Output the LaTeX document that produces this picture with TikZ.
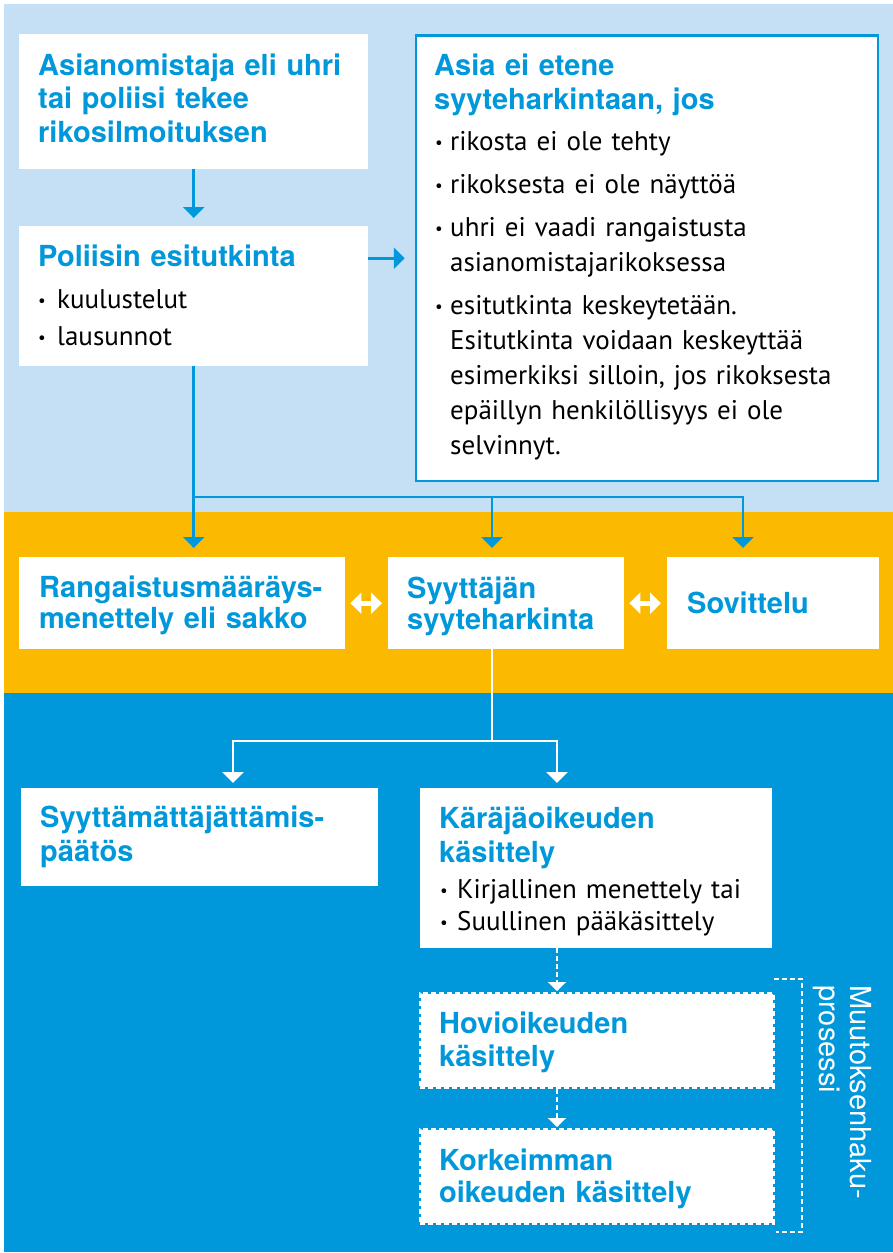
\documentclass[tikz,border=0pt]{standalone}
\usepackage{fontspec}
\usetikzlibrary{arrows.meta}
\newfontfamily\hfont{TeX Gyre Heros}
\newfontfamily\bfont{PT Sans}
\definecolor{lbg}{RGB}{197,224,244}
\definecolor{obg}{RGB}{251,186,0}
\definecolor{dbg}{RGB}{0,152,218}
\definecolor{hblue}{RGB}{0,152,218}
\newcommand\bdot{\raisebox{1.8pt}{\fontsize{17}{17}\selectfont •}}
\newcommand\bitem[2][15pt]{\makebox[#1][l]{\bdot}#2\par}
\newcommand\cont[1][15pt]{\newline\hspace*{#1}}
\tikzset{
  whitebox/.style={fill=white, draw=none, inner sep=0pt, anchor=north west},
  dbox/.style={draw=white, line width=2.5pt, dash pattern=on 5pt off 3pt, inner sep=0pt, anchor=north west},
  head/.style={anchor=base west, inner sep=0pt, text width=500pt, align=left, text=hblue,
    font=\hfont\bfseries\fontsize{29}{#1}\selectfont},
  head/.default=33.5,
  body/.style={anchor=base west, inner sep=0pt, text width=500pt, align=left, text=black,
    font=\bfont\fontsize{27}{#1}\selectfont},
  body/.default=35,
  bline/.style={draw=dbg, line width=2.5pt},
  barrow/.style={bline, -{Triangle[width=21pt,length=11pt]}},
  wline/.style={draw=white, line width=2.5pt},
  warrow/.style={wline, -{Triangle[width=21pt,length=11pt]}},
  darrow/.style={wline, dash pattern=on 5pt off 3pt, -{Triangle[width=18pt,length=9pt]}},
  dblarrow/.style={draw=white, line width=5pt, {Triangle[width=21pt,length=11pt]}-{Triangle[width=21pt,length=11pt]}},
}
\begin{document}
\begin{tikzpicture}[x=1pt,y=-1pt]
\useasboundingbox (0,0) rectangle (893,1253);
% bands
\fill[lbg] (4,4) rectangle (893,512);
\fill[obg] (4,512) rectangle (893,693);
\fill[dbg] (4,693) rectangle (893,1251.5);
% boxes
\node[whitebox, minimum width=349pt, minimum height=135pt] (b1) at (19,34) {};
\node[whitebox, minimum width=349pt, minimum height=140pt] (b2) at (19,226) {};
\node[whitebox, draw=dbg, line width=2.5pt, minimum width=462pt, minimum height=445.5pt, anchor=center] (rb) at (647,258.25) {};
\node[whitebox, minimum width=326pt, minimum height=92pt] (R) at (19,557) {};
\node[whitebox, minimum width=236pt, minimum height=92pt] (S) at (388,557) {};
\node[whitebox, minimum width=212pt, minimum height=92pt] (V) at (667,557) {};
\node[whitebox, minimum width=357pt, minimum height=98pt] (N) at (21,788) {};
\node[whitebox, minimum width=352pt, minimum height=160pt] (K) at (420,788) {};
\node[dbox, minimum width=353pt, minimum height=94pt] (H) at (419,992) {};
\node[dbox, minimum width=353pt, minimum height=94pt] (KK) at (419,1128) {};
\fill[white] ([shift={(1.5,1.5)}]H.north west) rectangle ([shift={(-1.5,-1.5)}]H.south east);
\fill[white] ([shift={(1.5,1.5)}]KK.north west) rectangle ([shift={(-1.5,-1.5)}]KK.south east);
% blue connectors
\coordinate (jS) at (492,497);
\coordinate (jV) at (743,497);
\draw[barrow] (b1.south) -- ([yshift=8pt]b2.north);
\draw[barrow] (b2.east |- rb.west) -- ([xshift=-10pt]rb.west);
\draw[barrow] (b2.south) -- ([yshift=9pt]b2.south |- R.north);
\draw[barrow] (b2.south |- jS) -| ([yshift=9pt]jV |- V.north);
\draw[barrow] (jS) -- ([yshift=9pt]jS |- S.north);
% double arrows
\draw[dblarrow] ([xshift=5pt]R.east) -- ([xshift=-6pt]S.west);
\draw[dblarrow] ([xshift=5pt]S.east) -- ([xshift=-6pt]V.west);
% white connectors
\coordinate (wJ) at (492,741);
\coordinate (wL) at (233,741);
\coordinate (wR) at (557,741);
\draw[wline] (wJ |- S.south) -- (wJ);
\draw[warrow] (wJ) -| ([yshift=5pt]wL |- N.north);
\draw[warrow] (wJ) -| ([yshift=5pt]wR |- K.north);
\draw[darrow] (K.south -| wR) -- ([yshift=1pt]H.north -| wR);
\draw[darrow] (H.south -| wR) -- ([yshift=1pt]KK.north -| wR);
% bracket
\coordinate (brA) at (774,979);
\coordinate (brB) at (802,979);
\coordinate (brC) at (802,1232);
\coordinate (brD) at (776,1232);
\draw[wline, dash pattern=on 5pt off 3pt] (brA) -- (brB) -- (brC) -- (brD);
% texts
\node[head] (t1) at (38,75) {Asianomistaja eli uhri\\tai poliisi tekee\\rikosilmoituksen};
\node[head] (t2) at (38,266) {Poliisin esitutkinta};
\node[body=37] (l2) at (38,308) {\bitem[19pt]{kuulustelut}\bitem[19pt]{lausunnot}};
\node[head=34] (t3) at (434,75) {Asia ei etene\\syyteharkintaan, jos};
\node[body] (l3) at (435,150) {\setlength\parskip{8pt}\bitem{rikosta ei ole tehty}\bitem{rikoksesta ei ole näyttöä}\bitem{uhri ei vaadi rangaistusta\cont asianomistajarikoksessa}\bitem{esitutkinta keskeytetään.\cont Esitutkinta voidaan keskeyttää\cont esimerkiksi silloin, jos rikoksesta\cont epäillyn henkilöllisyys ei ole\cont selvinnyt.}};
\node[head=31] (tR) at (39,597) {Rangaistusmääräys-\\menettely eli sakko};
\node[head=31] (tS) at (407,598) {Syyttäjän\\syyteharkinta};
\node[head] (tV) at (687,613) {Sovittelu};
\node[head=34] (tN) at (40,827) {Syyttämättäjättämis-\\päätös};
\node[head=34] (tK) at (439,828) {Käräjäoikeuden\\käsittely};
\node[body=32] (lK) at (440,898) {\bitem[17pt]{Kirjallinen menettely tai}\bitem[17pt]{Suullinen pääkäsittely}};
\node[head=33] (tH) at (439,1033) {Hovioikeuden\\käsittely};
\node[head=32] (tKK) at (439,1170) {Korkeimman\\oikeuden käsittely};
\node[rotate=-90, anchor=base west, inner sep=0pt, text width=300pt, align=left, text=white,
  font=\hfont\fontsize{29}{31}\selectfont] (mp) at (850,985) {Muutoksenhaku-\\prosessi};
\end{tikzpicture}
\end{document}
